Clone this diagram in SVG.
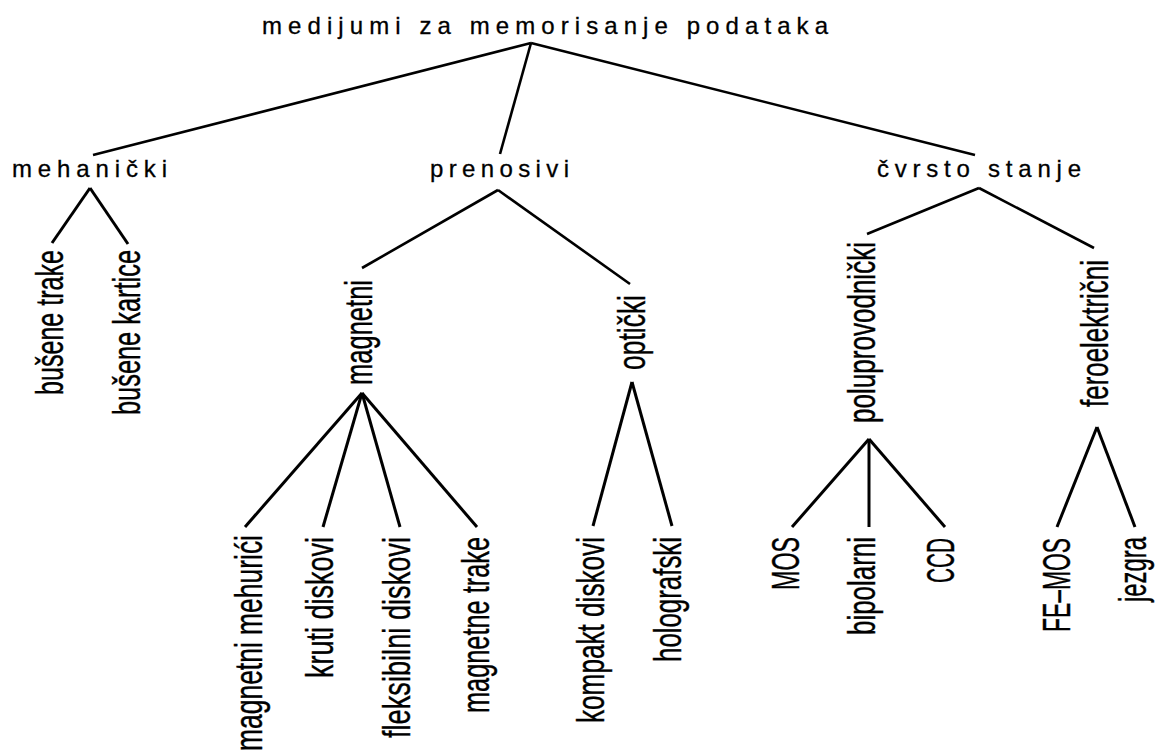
<svg xmlns="http://www.w3.org/2000/svg" width="1157" height="751" viewBox="0 0 1157 751">
  <style>
    .h { font-family: "Liberation Sans", Arial, sans-serif; font-size: 24px; fill: #000; stroke: #000; stroke-width: 0.3; }
    .v { font-family: "Liberation Sans", Arial, sans-serif; font-size: 38px; fill: #000; stroke: #000; stroke-width: 0.4; }
    .c line { stroke: #000; stroke-width: 3; stroke-linecap: butt; }
    .c .t { stroke-width: 2.6; }
  </style>
  <rect x="0" y="0" width="1157" height="751" fill="#fff"/>

  <g id="connectors" class="c">
    <line class="t" x1="531" y1="43" x2="93" y2="155"/>
    <line class="t" x1="531" y1="43" x2="500" y2="154"/>
    <line class="t" x1="531" y1="43" x2="975" y2="155"/>

    <line x1="90" y1="188" x2="52" y2="243"/>
    <line x1="90" y1="188" x2="128" y2="244"/>

    <line class="t" x1="498" y1="190" x2="362" y2="268"/>
    <line class="t" x1="498" y1="190" x2="630" y2="284"/>

    <line class="t" x1="979" y1="188" x2="867" y2="234"/>
    <line class="t" x1="979" y1="188" x2="1094" y2="248"/>

    <line x1="362" y1="393" x2="245" y2="527"/>
    <line x1="362" y1="393" x2="323" y2="527"/>
    <line x1="362" y1="393" x2="400" y2="527"/>
    <line x1="362" y1="393" x2="477" y2="527"/>

    <line x1="632" y1="382" x2="593" y2="526"/>
    <line x1="632" y1="382" x2="672" y2="526"/>

    <line x1="869" y1="439" x2="792" y2="527"/>
    <line x1="869" y1="439" x2="869" y2="527"/>
    <line x1="869" y1="439" x2="945" y2="527"/>

    <line x1="1097" y1="427" x2="1057" y2="527"/>
    <line x1="1097" y1="427" x2="1135" y2="527"/>
  </g>

  <g id="root"><text class="h" x="262" y="34" textLength="566" lengthAdjust="spacing">medijumi za memorisanje podataka</text></g>

  <g id="mehanicki"><text class="h" x="12" y="177" textLength="155" lengthAdjust="spacing">mehanički</text></g>
  <g id="prenosivi"><text class="h" x="430" y="177" textLength="139" lengthAdjust="spacing">prenosivi</text></g>
  <g id="cvrsto-stanje"><text class="h" x="877" y="177" textLength="204" lengthAdjust="spacing">čvrsto stanje</text></g>

  <g id="busene-trake"><text class="v" transform="translate(63,395) rotate(-90)" textLength="145" lengthAdjust="spacingAndGlyphs">bušene trake</text></g>
  <g id="busene-kartice"><text class="v" transform="translate(140,415) rotate(-90)" textLength="165" lengthAdjust="spacingAndGlyphs">bušene kartice</text></g>

  <g id="magnetni"><text class="v" transform="translate(372,385) rotate(-90)" textLength="105" lengthAdjust="spacingAndGlyphs">magnetni</text></g>
  <g id="opticki"><text class="v" transform="translate(645,370) rotate(-90)" textLength="75" lengthAdjust="spacingAndGlyphs">optički</text></g>

  <g id="poluprovodnicki"><text class="v" transform="translate(875,423) rotate(-90)" textLength="181" lengthAdjust="spacingAndGlyphs">poluprovodnički</text></g>
  <g id="feroelektricni"><text class="v" transform="translate(1108,407) rotate(-90)" textLength="147" lengthAdjust="spacingAndGlyphs">feroelektrični</text></g>

  <g id="magnetni-mehurici"><text class="v" transform="translate(262,751) rotate(-90)" textLength="216" lengthAdjust="spacingAndGlyphs">magnetni mehurići</text></g>
  <g id="kruti-diskovi"><text class="v" transform="translate(333,678) rotate(-90)" textLength="141" lengthAdjust="spacingAndGlyphs">kruti diskovi</text></g>
  <g id="fleksibilni-diskovi"><text class="v" transform="translate(410,738) rotate(-90)" textLength="201" lengthAdjust="spacingAndGlyphs">fleksibilni diskovi</text></g>
  <g id="magnetne-trake"><text class="v" transform="translate(489,713) rotate(-90)" textLength="176" lengthAdjust="spacingAndGlyphs">magnetne trake</text></g>

  <g id="kompakt-diskovi"><text class="v" transform="translate(604,723) rotate(-90)" textLength="186" lengthAdjust="spacingAndGlyphs">kompakt diskovi</text></g>
  <g id="holografski"><text class="v" transform="translate(681,662) rotate(-90)" textLength="125" lengthAdjust="spacingAndGlyphs">holografski</text></g>

  <g id="mos"><text class="v" transform="translate(799,590) rotate(-90)" textLength="53" lengthAdjust="spacingAndGlyphs">MOS</text></g>
  <g id="bipolarni"><text class="v" transform="translate(875,635) rotate(-90)" textLength="98" lengthAdjust="spacingAndGlyphs">bipolarni</text></g>
  <g id="ccd"><text class="v" transform="translate(954,583) rotate(-90)" textLength="45" lengthAdjust="spacingAndGlyphs">CCD</text></g>

  <g id="fe-mos"><text class="v" transform="translate(1070,632) rotate(-90)" textLength="94" lengthAdjust="spacingAndGlyphs">FE–MOS</text></g>
  <g id="jezgra"><text class="v" transform="translate(1146,602) rotate(-90)" textLength="65" lengthAdjust="spacingAndGlyphs">jezgra</text></g>
</svg>
